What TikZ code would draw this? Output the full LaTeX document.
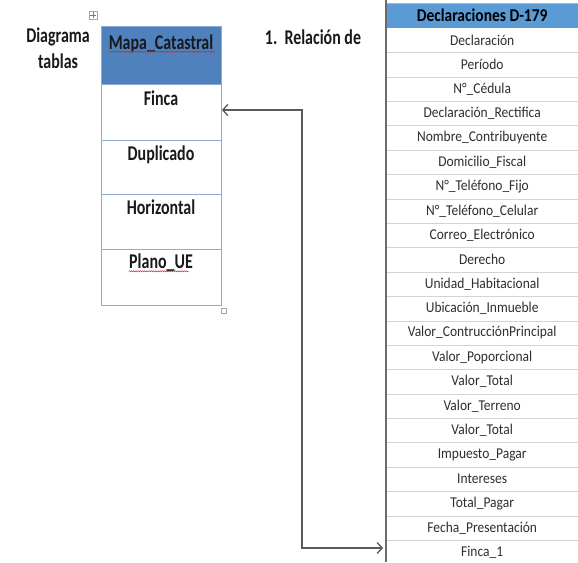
\documentclass[tikz,border=0pt]{standalone}
\usepackage{fontspec}
\setmainfont{Carlito}
\newfontfamily\narrowfont[FakeStretch=0.76]{Carlito}
\newfontfamily\headfont[FakeStretch=0.86]{Carlito}
\newfontfamily\rowfont[FakeStretch=0.9]{Carlito}
\usetikzlibrary{arrows.meta,decorations.pathmorphing}
\definecolor{hdrA}{HTML}{4F81BD}
\definecolor{hdrB}{HTML}{5B9BD5}
\definecolor{gridA}{HTML}{8EA9DB}
\definecolor{gridB}{HTML}{D4D4D4}
\definecolor{conn}{HTML}{5A5A5A}
\definecolor{squigc}{HTML}{C0303A}
\begin{document}
\begin{tikzpicture}[x=1pt,y=-1pt,
  lcell/.style={draw=gridA, line width=0.9pt, minimum width=120pt, inner sep=0pt, anchor=north west},
  ltext/.style={font=\narrowfont\fontsize{21}{21}\selectfont\bfseries, text=black!90},
  rtext/.style={font=\rowfont\fontsize{15}{15}\selectfont, text=black!82},
  rcell/.style={minimum width=192pt, minimum height=24.38pt, inner sep=0pt},
  squig/.style={draw=squigc, line width=0.5pt, decorate, decoration={snake, amplitude=0.6pt, segment length=2.2pt}},
  link/.style={draw=conn, line width=1.6pt, {Straight Barb[length=5pt,width=11pt,line width=1.3pt]}-{Straight Barb[length=5pt,width=11pt,line width=1.3pt]}}
]
\useasboundingbox (0,0) rectangle (578,562);
% side labels
\node[ltext] (diag) at (58,37) {Diagrama};
\node[ltext] (tab) at (58,61) {tablas};
\node[ltext] (rel) at (313,37) {1.\ \ Relación de};
% move icon
\node[draw=gray!70, fill=white, minimum size=8pt, inner sep=0pt, line width=0.5pt] (mv) at (93,15) {};
\draw[hdrA, line width=0.9pt] (mv.center) ++(-2.6,0) -- ++(5.2,0) (mv.center) ++(0,-2.6) -- ++(0,5.2);
% left table
\node[lcell, fill=hdrA, minimum height=58pt] (mapa) at (101,26) {};
\node[ltext, anchor=north] (mapat) at (161,31) {Mapa\_Catastral};
\draw[squig] (mapat.base west) ++(4,2.5) -- ++(106,0);
\node[lcell, minimum height=56pt] (finca) at (101,84) {};
\node[ltext, anchor=north] at (161,87) {Finca};
\node[lcell, minimum height=54pt] (dup) at (101,140) {};
\node[ltext, anchor=north] at (161,142) {Duplicado};
\node[lcell, minimum height=55pt] (hor) at (101,194) {};
\node[ltext, anchor=north] at (161,196) {Horizontal};
\node[lcell, minimum height=56pt] (plano) at (101,249) {};
\node[ltext, anchor=north] (planot) at (161,250) {Plano\_UE};
\draw[squig] (planot.base west) ++(3,3) -- ++(60,0);
\node[draw=gray!70, fill=white, minimum size=5pt, inner sep=0pt, line width=0.5pt] (rs) at (224,311) {};
% right table
\node[rcell, fill=hdrB, anchor=north west, minimum height=25pt] (dhead) at (386,3) {};
\node[font=\headfont\fontsize{18}{18}\selectfont\bfseries, text=black] (dheadt) at (dhead.center) {Declaraciones D-179};
\foreach \t [count=\i] in {Declaración,Período,N°\_Cédula,Declaración\_Rectifica,Nombre\_Contribuyente,Domicilio\_Fiscal,N°\_Teléfono\_Fijo,N°\_Teléfono\_Celular,Correo\_Electrónico,Derecho,Unidad\_Habitacional,Ubicación\_Inmueble,Valor\_ContrucciónPrincipal,Valor\_Poporcional,Valor\_Total,Valor\_Terreno,Valor\_Total,Impuesto\_Pagar,Intereses,Total\_Pagar,Fecha\_Presentación,Finca\_1}{
  \node[rcell, anchor=north west] (r\i) at (386,{28+24.38*(\i-1)}) {};
  \node[rtext] at (r\i.center) {\t};
  \draw[gridB, line width=0.9pt] (r\i.south west) -- (r\i.south east);
}
\draw[gray!60, line width=0.6pt] (dhead.north west) -- (dhead.north east);
\draw[conn!90, line width=2.4pt] (386,0) -- (386,562);
% connector
\coordinate (bend) at (302,0);
\draw[link] (finca.east |- 0,110) -| (bend |- 0,300) |- ([xshift=-3pt]r22.west |- 0,548);
\end{tikzpicture}
\end{document}
